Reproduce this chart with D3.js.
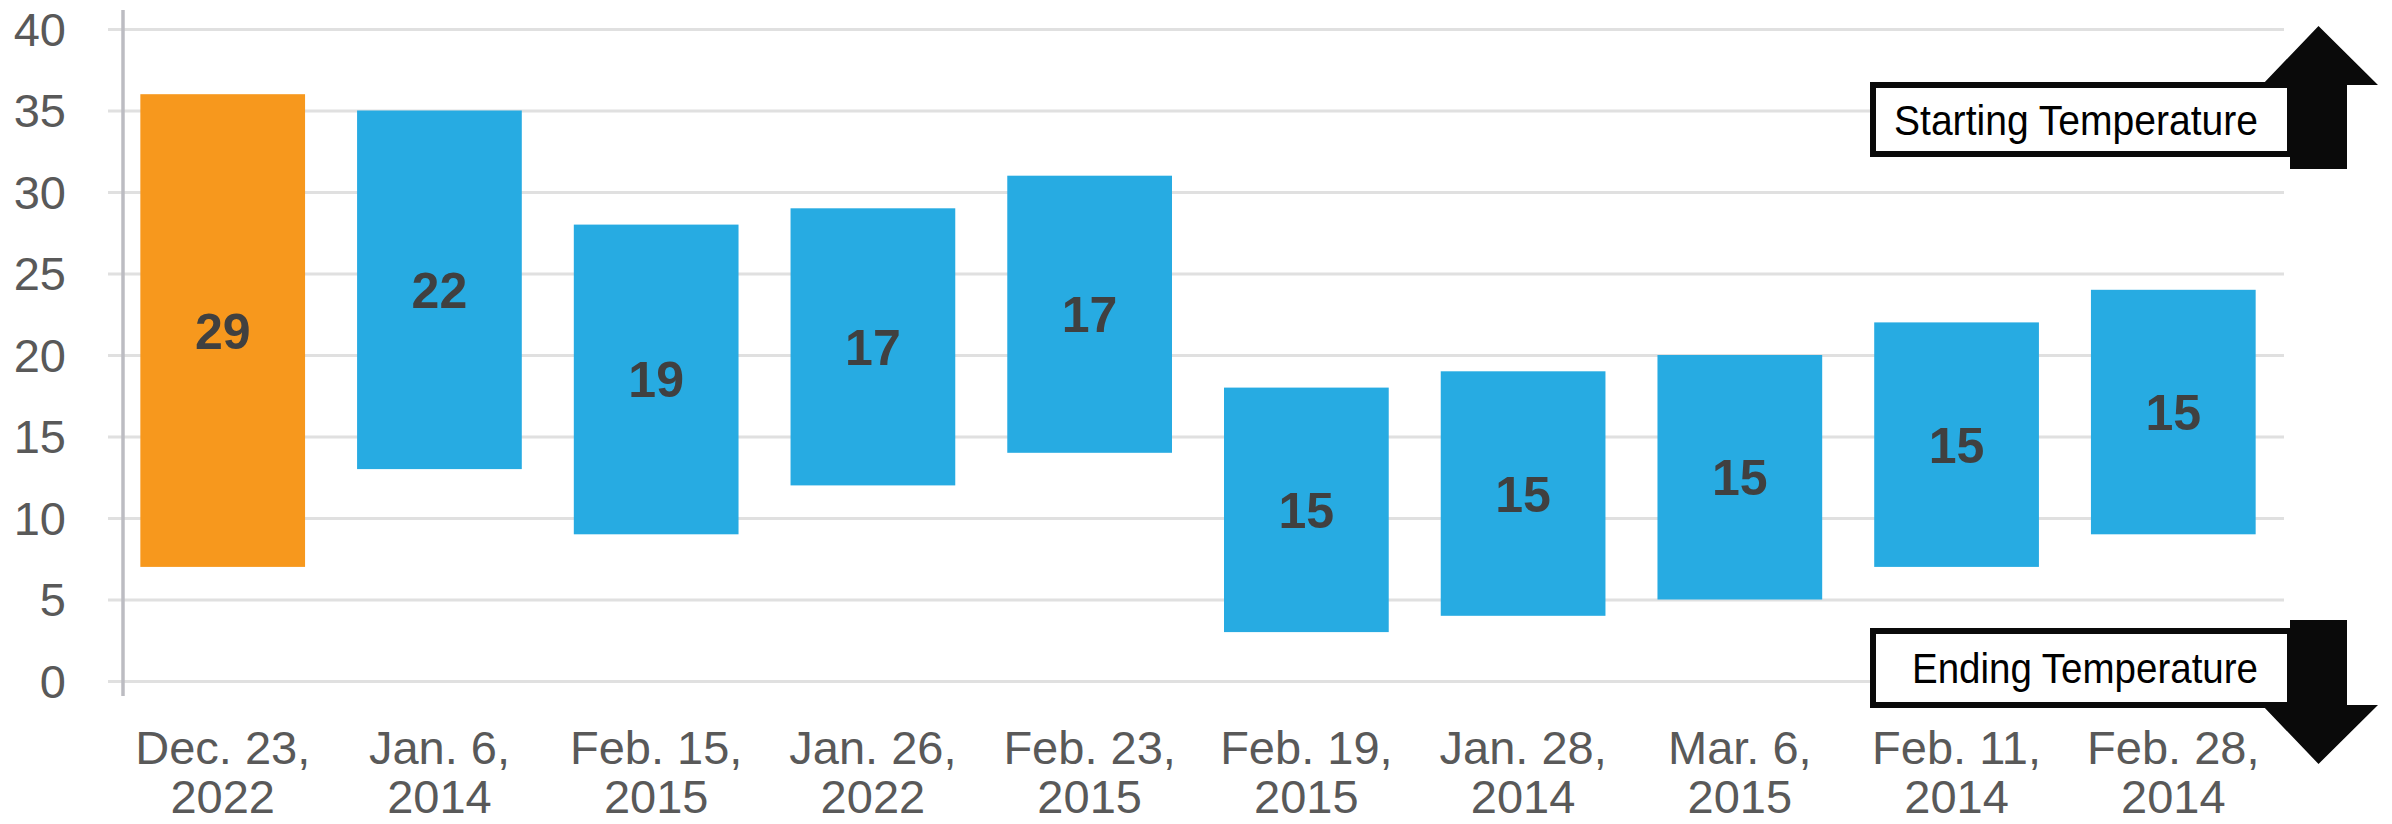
<!DOCTYPE html>
<html>
<head>
<meta charset="utf-8">
<script src="https://cdn.jsdelivr.net/npm/d3@7"></script>
<style>
  body { margin: 0; background: #fff; }
  svg text { font-family: "Liberation Sans", Arial, sans-serif; }
</style>
</head>
<body>
<div id="graph"></div>
<script>
// chart data
var categories = ["Dec. 23, 2022", "Jan. 6, 2014", "Feb. 15, 2015", "Jan. 26, 2022", "Feb. 23, 2015",
                  "Feb. 19, 2015", "Jan. 28, 2014", "Mar. 6, 2015", "Feb. 11, 2014", "Feb. 28, 2014"];
var startTemps = [36, 35, 28, 29, 31, 18, 19, 20, 22, 24];
var endTemps = [7, 13, 9, 12, 14, 3, 4, 5, 7, 9];
var yTicks = [0, 5, 10, 15, 20, 25, 30, 35, 40];
var highlightIndex = 0;
var startLabel = "Starting Temperature";
var endLabel = "Ending Temperature";

const width = 2392, height = 824;
const plot = {left: 108, right: 2284, top: 29, bottom: 681, axisX: 123};
var svg, xScale, yScale;

function setup_graph() {
    svg = d3.select("#graph")
        .append("svg")
        .attr("width", width)
        .attr("height", height);
}

function build_scales() {
    xScale = d3.scaleBand()
        .domain(categories)
        .range([plot.left + 2, plot.right + 2])
        .paddingInner(0.24)
        .paddingOuter(0.14);
    yScale = d3.scaleLinear()
        .domain([0, 40])
        .range([plot.bottom, plot.top]);
}

function build_axes() {
    // gridlines
    var grid = svg.append("g")
        .attr("class", "grid")
        .attr("transform", "translate(" + plot.left + ",0)")
        .call(d3.axisRight(yScale).tickValues(yTicks).tickSize(plot.right - plot.left).tickFormat(""));
    grid.select(".domain").remove();
    grid.selectAll("line").style("stroke", "#e0e0e0").style("stroke-width", 3);

    // y labels
    var yAxis = svg.append("g")
        .attr("class", "y-axis")
        .attr("transform", "translate(66,0)")
        .call(d3.axisLeft(yScale).tickValues(yTicks).tickSize(0).tickPadding(0));
    yAxis.select(".domain").remove();
    yAxis.selectAll("text")
        .attr("dy", "0.35em")
        .style("font-size", "47px")
        .style("fill", "#595959");

    // vertical axis line
    svg.append("line")
        .attr("x1", plot.axisX).attr("x2", plot.axisX)
        .attr("y1", plot.top - 19).attr("y2", plot.bottom + 15)
        .style("stroke", "#bcbcc2")
        .style("stroke-width", 3.5);

    // x labels in two lines
    var xAxis = svg.append("g")
        .attr("class", "x-axis")
        .attr("transform", "translate(0," + plot.bottom + ")")
        .call(d3.axisBottom(xScale).tickSize(0).tickFormat(""));
    xAxis.select(".domain").remove();
    xAxis.selectAll(".tick").each(function(d) {
        var parts = d.split(", ");
        var t = d3.select(this).append("text")
            .attr("text-anchor", "middle")
            .style("font-size", "47px")
            .style("fill", "#595959");
        t.append("tspan").attr("x", 0).attr("y", 83).text(parts[0] + ",");
        t.append("tspan").attr("x", 0).attr("y", 132).text(parts[1]);
    });
}

function build_bars() {
    var bars = svg.selectAll("g.bar")
        .data(categories)
        .enter()
        .append("g")
        .attr("class", "bar");
    bars.append("rect")
        .attr("x", d => xScale(d))
        .attr("width", xScale.bandwidth())
        .attr("y", (d, i) => yScale(startTemps[i]))
        .attr("height", (d, i) => yScale(endTemps[i]) - yScale(startTemps[i]))
        .style("fill", (d, i) => i == highlightIndex ? "#f7981d" : "#27abe2");
    bars.append("text")
        .attr("x", d => xScale(d) + xScale.bandwidth() / 2)
        .attr("y", (d, i) => yScale((startTemps[i] + endTemps[i]) / 2))
        .attr("dy", "0.36em")
        .attr("text-anchor", "middle")
        .style("font-size", "50px")
        .style("font-weight", "bold")
        .style("fill", "#404040")
        .text((d, i) => startTemps[i] - endTemps[i]);
}

// labelled box with a block arrow pointing up or down
function build_arrow(label, boxTop, boxBottom, up) {
    var boxLeft = 1873, shaftL = 2290, shaftR = 2347, headL = 2262, headR = 2378;
    var cx = (shaftL + shaftR) / 2;
    var g = svg.append("g").attr("class", "legend-arrow");
    g.append("rect")
        .attr("x", boxLeft).attr("y", boxTop)
        .attr("width", shaftL - boxLeft).attr("height", boxBottom - boxTop)
        .style("fill", "#fff")
        .style("stroke", "#0a0a0a")
        .style("stroke-width", 6);
    var pts;
    if (up) {
        var base = boxTop, tail = boxBottom + 15, tip = 26;
        pts = [[shaftL, tail], [shaftL, base], [headL, base], [cx, tip], [headR, base], [shaftR, base], [shaftR, tail]];
    } else {
        var base2 = boxBottom, tail2 = boxTop - 11, tip2 = 764;
        pts = [[shaftL, tail2], [shaftL, base2], [headL, base2], [cx, tip2], [headR, base2], [shaftR, base2], [shaftR, tail2]];
    }
    g.append("path")
        .attr("d", d3.line()(pts) + "Z")
        .style("fill", "#0a0a0a");
    g.append("text")
        .attr("x", 2258)
        .attr("y", (boxTop + boxBottom) / 2)
        .attr("dy", "0.36em")
        .attr("text-anchor", "end")
        .attr("textLength", up ? 364 : 346)
        .attr("lengthAdjust", "spacingAndGlyphs")
        .style("font-size", "43px")
        .style("fill", "#000")
        .text(label);
}

function initialize() {
    setup_graph();
    build_scales();
    build_axes();
    build_bars();
    build_arrow(startLabel, 85, 154, true);
    build_arrow(endLabel, 631, 705, false);
}

initialize();
</script>
</body>
</html>
